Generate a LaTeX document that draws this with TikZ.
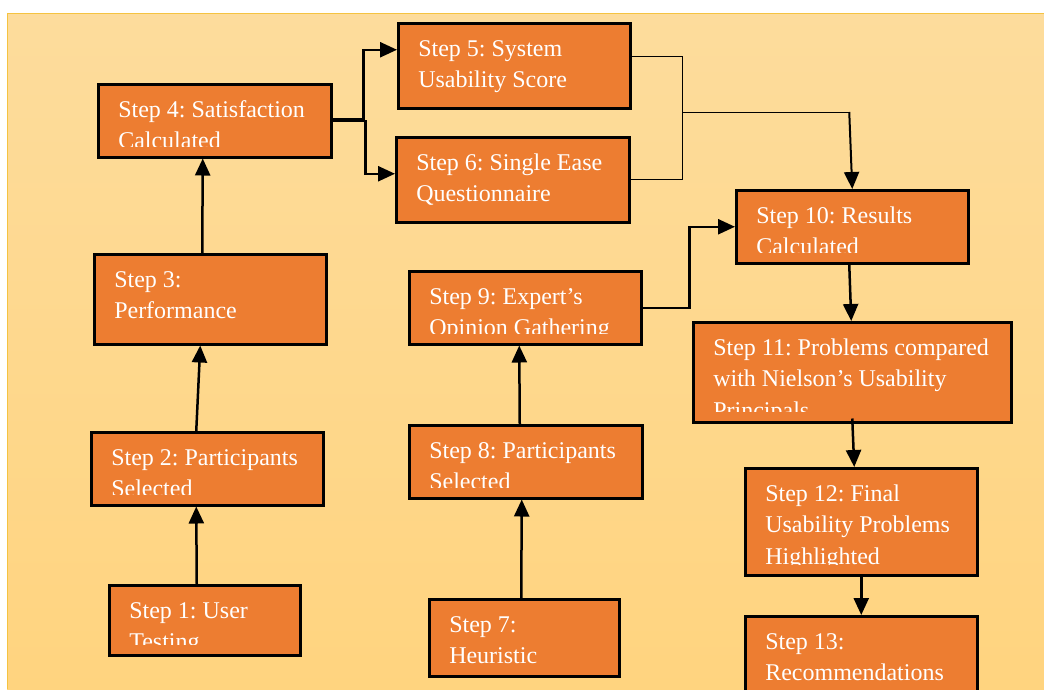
\documentclass[tikz,border=0pt]{standalone}
\usepackage{fontspec}
\setmainfont{Liberation Serif}
\frenchspacing
\usetikzlibrary{arrows.meta}
\definecolor{stepfill}{RGB}{237,125,49}
\definecolor{bgtop}{RGB}{253,220,156}
\definecolor{bgbottom}{RGB}{255,212,127}
\definecolor{bgedge}{RGB}{245,195,65}
\tikzset{step node/.style={rectangle,draw=black,line width=2.5pt,fill=stepfill,anchor=north west,inner sep=0pt},
  step label/.style={anchor=north west,inner sep=0pt,outer sep=0pt,minimum width=0pt,minimum height=0pt,
    text=white,align=left,font=\fontsize{24}{31.5}\selectfont},
  step text/.style={path picture={
      \clip ([yshift=11pt]path picture bounding box.south west) rectangle (path picture bounding box.north east);
      \node[step label] at ([xshift=20pt,yshift=-11pt]path picture bounding box.north west) {\strut #1};}},
  flow/.style={line width=2.5pt,-{Triangle[length=17pt,width=15pt]}},
  join line/.style={line width=1pt},}
\newcommand{\arr}[2]{\draw[flow] (#1) -- (#2);}

\begin{document}
\begin{tikzpicture}[x=1pt,y=-1pt]
        \clip (0,0) rectangle (1044,689);
        \fill[white] (0,0) rectangle (1044,689);
        \shade[top color=bgtop,bottom color=bgbottom] (7,13) rectangle (1044,689);
        \draw[bgedge,line width=1pt] (7,689) -- (7,13) -- (1044,13);

        \node[step node,minimum width=191pt,minimum height=70pt,step text={Step 1: User\\Testing}] (s1) at (108,584) {};
        \node[step node,minimum width=232pt,minimum height=73pt,step text={Step 2: Participants\\Selected}] (s2) at (90,431) {};
        \node[step node,minimum width=232pt,minimum height=90pt,step text={Step 3:\\Performance}] (s3) at (93,253) {};
        \node[step node,minimum width=233pt,minimum height=73pt,step text={Step 4: Satisfaction\\Calculated}] (s4) at (97,83) {};
        \node[step node,minimum width=232pt,minimum height=85pt,step text={Step 5: System\\Usability Score}] (s5) at (397,22) {};
        \node[step node,minimum width=233pt,minimum height=85pt,step text={Step 6: Single Ease\\Questionnaire}] (s6) at (395,136) {};
        \node[step node,minimum width=190pt,minimum height=77pt,step text={Step 7:\\Heuristic}] (s7) at (428,598) {};
        \node[step node,minimum width=233pt,minimum height=73pt,step text={Step 8: Participants\\Selected}] (s8) at (408,424) {};
        \node[step node,minimum width=232pt,minimum height=73pt,step text={Step 9: Expert’s\\Opinion Gathering}] (s9) at (408,270) {};
        \node[step node,minimum width=232pt,minimum height=73pt,step text={Step 10: Results\\Calculated}] (s10) at (735,189) {};
        \node[step node,minimum width=318pt,minimum height=100pt,step text={Step 11: Problems compared\\with Nielson’s Usability\\Principals}] (s11) at (692,321) {};
        \node[step node,minimum width=232pt,minimum height=107pt,step text={Step 12: Final\\Usability Problems\\Highlighted}] (s12) at (744,467) {};
        \node[step node,minimum width=232pt,minimum height=95pt,step text={Step 13:\\Recommendations}] (s13) at (744,615) {};
        \coordinate (join) at (682,112);

        \arr{[xshift=-8pt]s1.north}{[xshift=-11pt]s2.south}
        \arr{[xshift=-11pt]s2.north}{[xshift=-10pt]s3.south}
        \arr{[xshift=-8pt]s3.north}{[xshift=-12pt]s4.south}
        \draw[flow] ([yshift=2pt]s4.east) -- ++(31,0) |- ([yshift=16pt]s5.west);
        \draw[flow] (s4.east) -- ++(33,0) |- ([yshift=6pt]s6.west);
        \draw[join line] ([yshift=9pt]s5.east) -| (join);
        \draw[join line] (s6.east) -| (join);
        \draw[join line] (join) -- ([xshift=-3pt]join -| s10.north);
        \draw[flow,line width=2pt] ([xshift=-3pt]join -| s10.north) -- (s10.north);
        \arr{[xshift=-3pt]s7.north}{[xshift=-4pt]s8.south}
        \arr{[xshift=-6pt]s8.north}{[xshift=-6pt]s9.south}
        \draw[flow] (s9.east) -- ++(47,0) |- (s10.west);
        \arr{[xshift=-3pt]s10.south}{[xshift=-1pt]s11.north}
        \arr{[yshift=5pt]s11.south}{[xshift=-7pt]s12.north}
        \arr{s12.south}{s13.north}
\end{tikzpicture}
\end{document}
